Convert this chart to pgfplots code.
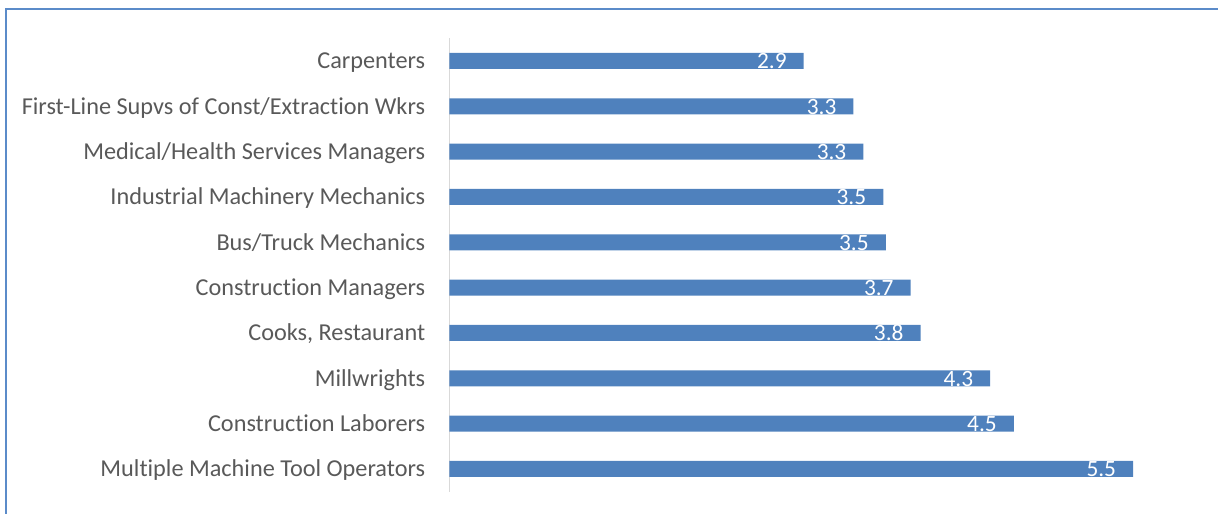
\documentclass[border=0pt]{standalone}
\usepackage{pgfplots}
\pgfplotsset{compat=1.18}
\usepackage{fontspec}
\setmainfont[Ligatures={NoCommon}]{Carlito}
\definecolor{barblue}{HTML}{4F81BD}
\definecolor{labgray}{HTML}{595959}
\definecolor{framecol}{HTML}{5B8BC9}
\definecolor{axgray}{HTML}{D9D9D9}
\begin{document}
\begin{tikzpicture}
\path[use as bounding box] (0,0) rectangle (913.5pt,385.5pt);
\draw[framecol, line width=1.5pt] (4.5pt,0) -- (4.5pt,378.5pt) -- (913.5pt,378.5pt);
\begin{axis}[
  at={(337.1pt,16.75pt)}, anchor=south west,
  scale only axis,
  width=559.35pt, height=340pt,
  xmin=0, xmax=6, ymin=-0.5, ymax=9.5,
  xbar, bar width=12pt,
  axis x line=none,
  axis y line*=left,
  y axis line style={draw=axgray, line width=1.1pt},
  ytick={0,...,9},
  yticklabels={Multiple Machine Tool Operators, Construction Laborers, Millwrights, {Cooks, Restaurant}, Construction Managers, Bus/Truck Mechanics, Industrial Machinery Mechanics, Medical/Health Services Managers, First-Line Supvs of Const/Extraction Wkrs, Carpenters},
  major tick length=0pt,
  yticklabel style={font=\fontsize{18.2}{21}\selectfont, text=labgray, anchor=base east, inner sep=0pt, xshift=-18pt, yshift=-5.9pt},
  point meta=explicit symbolic,
  nodes near coords,
  every node near coord/.append style={font=\fontsize{17.5}{20}\selectfont, text=white, anchor=base east, inner sep=0pt, xshift=-12.6pt, yshift=-6pt},
]
\addplot[fill=barblue, draw=none] coordinates {
(5.50,0) [5.5]
(4.54,1) [4.5]
(4.35,2) [4.3]
(3.79,3) [3.8]
(3.71,4) [3.7]
(3.51,5) [3.5]
(3.49,6) [3.5]
(3.33,7) [3.3]
(3.25,8) [3.3]
(2.85,9) [2.9]
};
\end{axis}
\end{tikzpicture}
\end{document}
